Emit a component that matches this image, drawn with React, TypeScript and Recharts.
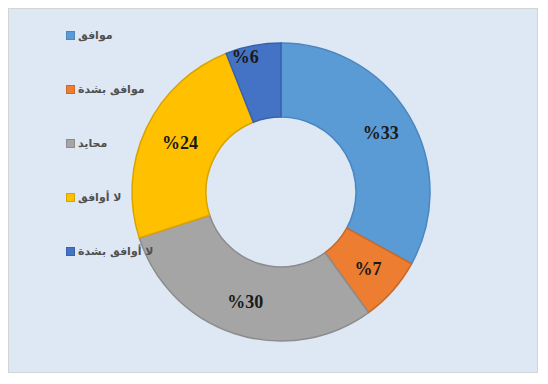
import { PieChart, Pie, Cell, Legend } from "recharts";

const categories = ["موافق", "موافق بشدة", "محايد", "لا أوافق", "لا أوافق بشدة"];
const values = [33, 7, 30, 24, 6];
const labels = ["%33", "%7", "%30", "%24", "%6"];
const COLORS = ["#5b9bd5", "#ed7d31", "#a5a5a5", "#ffc000", "#4472c4"];
const STROKES = ["#4a86c0", "#c96a28", "#8c8c8c", "#d9a300", "#3a62aa"];

const data = categories.map((name, i) => ({ name, value: values[i], label: labels[i] }));

const RAD = Math.PI / 180;

// the small "%6" label sits near the outer edge in the original
// eslint-disable-next-line @typescript-eslint/no-explicit-any
function renderLabel(props: any) {
  const { cx, cy, midAngle, innerRadius, outerRadius, index } = props;
  const outer = index === 4;
  const r = outer ? outerRadius - 12 : (innerRadius + outerRadius) / 2 + 4;
  const x = cx + r * Math.cos(-midAngle * RAD) + (outer ? -10 : 0) + (index === 3 ? 4 : 0);
  const y = cy + r * Math.sin(-midAngle * RAD);
  return (
    <text
      x={x}
      y={y}
      textAnchor="middle"
      dominantBaseline="central"
      fontFamily="'Liberation Serif', 'Times New Roman', serif"
      fontWeight="bold"
      fontSize={18}
      fill="#1a1a1a"
    >
      {labels[index]}
    </text>
  );
}

function LegendList() {
  return (
    <div style={{ position: "absolute", left: 57, top: -1 }}>
      {categories.map((c, i) => (
        <div
          key={c}
          style={{
            display: "flex",
            alignItems: "center",
            height: 54,
            fontFamily: "'DejaVu Sans', sans-serif",
            fontSize: 11,
            fontWeight: "bold",
            color: "#505050",
          }}
        >
          <span
            style={{
              display: "inline-block",
              width: 7,
              height: 7,
              background: COLORS[i],
              border: `1px solid ${STROKES[i]}`,
              marginRight: 3,
            }}
          />
          <span style={{ direction: "rtl" }}>{c}</span>
        </div>
      ))}
    </div>
  );
}

export default function App() {
  return (
    <div
      style={{
        position: "relative",
        width: 528,
        height: 363,
        background: "#dee8f4",
        border: "1px solid #d4d4d4",
      }}
    >
      <PieChart width={528} height={363} margin={{ top: 0, right: 0, bottom: 0, left: 0 }}>
        <Pie
          data={data}
          dataKey="value"
          nameKey="name"
          cx={272}
          cy={183}
          innerRadius={75}
          outerRadius={149}
          startAngle={90}
          endAngle={-270}
          label={renderLabel}
          labelLine={false}
          isAnimationActive={false}
        >
          {data.map((d, i) => (
            <Cell key={d.name} fill={COLORS[i]} stroke={STROKES[i]} strokeWidth={1.5} />
          ))}
        </Pie>
        <Legend content={() => null} />
      </PieChart>
      <LegendList />
    </div>
  );
}
